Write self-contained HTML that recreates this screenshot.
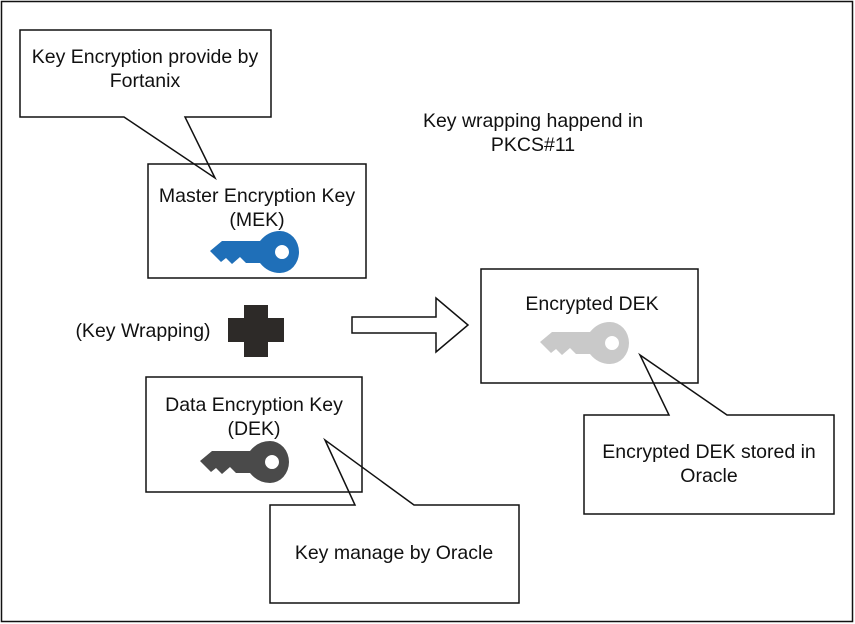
<!DOCTYPE html>
<html><head><style>body{margin:0;background:#fff}svg{display:block}text{font-family:"Liberation Sans",Arial,sans-serif;font-size:19.5px;fill:#111;text-anchor:middle}</style></head>
<body>
<svg width="855" height="624" viewBox="0 0 855 624">
<defs>
<path id="key" d="M0,20 L12,10 L50,10 Q58,0 70,0 A19,21 0 1 1 70,42 Q58,42 50,32 L36,32 L30,26 L22,33 L16,27 L11,31 Z M72,14 A7,7 0 1 0 72.01,14 Z" fill-rule="evenodd"/>
</defs>
<rect x="1.5" y="1.5" width="851" height="620" fill="#fff" stroke="#111" stroke-width="1.5"/>
<rect x="148" y="164" width="218" height="114" fill="#fff" stroke="#111" stroke-width="1.5"/>
<polygon points="20,30 271,30 271,117 185,117 215,178 124,117 20,117" fill="none" stroke="#111" stroke-width="1.5"/>
<text x="145" y="63">Key Encryption provide by</text>
<text x="145" y="87">Fortanix</text>
<text x="257" y="202">Master Encryption Key</text>
<text x="257" y="226">(MEK)</text>
<use href="#key" x="210" y="231" fill="#1f6fb8"/>
<text x="533" y="127">Key wrapping happend in</text>
<text x="533" y="151">PKCS#11</text>
<text x="143" y="337">(Key Wrapping)</text>
<rect x="244" y="305" width="24" height="52" fill="#2d2a28"/>
<rect x="228" y="318" width="56" height="24" fill="#2d2a28"/>
<polygon points="352,317 436,317 436,298 468,325 436,352 436,333 352,333" fill="#fff" stroke="#111" stroke-width="1.5"/>
<rect x="481" y="269" width="217" height="114" fill="#fff" stroke="#111" stroke-width="1.5"/>
<text x="592" y="310">Encrypted DEK</text>
<use href="#key" x="540" y="322" fill="#c9c9c9"/>
<rect x="584" y="415" width="250" height="99" fill="#fff"/>
<polygon points="584,415 669,415 640,355 727,415 834,415 834,514 584,514" fill="none" stroke="#111" stroke-width="1.5"/>
<text x="709" y="458">Encrypted DEK stored in</text>
<text x="709" y="482">Oracle</text>
<rect x="146" y="377" width="216" height="115" fill="#fff" stroke="#111" stroke-width="1.5"/>
<text x="254" y="411">Data Encryption Key</text>
<text x="254" y="435">(DEK)</text>
<use href="#key" x="200" y="441" fill="#4a4a4a"/>
<rect x="270" y="505" width="249" height="98" fill="#fff"/>
<polygon points="270,505 355,505 325,440 414,505 519,505 519,603 270,603" fill="none" stroke="#111" stroke-width="1.5"/>
<text x="394" y="559">Key manage by Oracle</text>
</svg>
</body></html>
